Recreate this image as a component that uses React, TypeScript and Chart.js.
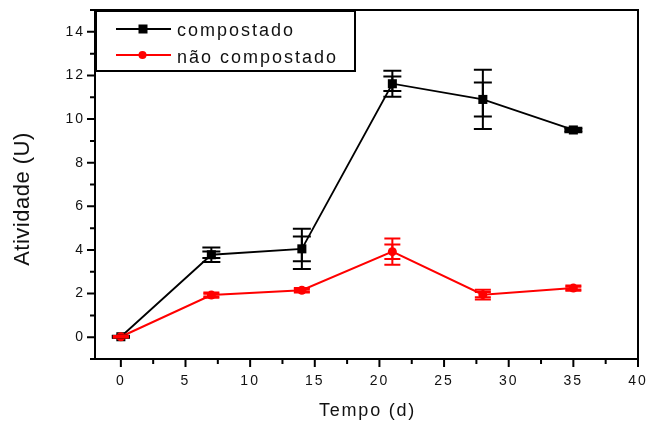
import React, { useEffect, useRef } from 'react';
import { Chart, registerables } from 'chart.js';

Chart.register(...registerables);

const days = [0, 7, 14, 21, 28, 35];
const compostado = [0.02, 3.78, 4.05, 11.62, 10.9, 9.5];
const compostadoErr = [0.05, 0.33, 0.92, 0.6, 1.36, 0.1];
const compostadoErrInner = [0.03, 0.15, 0.57, 0.33, 0.78, 0.05];
const naoCompostado = [0.02, 1.93, 2.15, 3.92, 1.95, 2.25];
const naoCompostadoErr = [0.03, 0.12, 0.1, 0.6, 0.22, 0.12];
const naoCompostadoErrInner = [0.02, 0.06, 0.05, 0.33, 0.12, 0.06];

const seriesLabels = ['compostado', 'não compostado'];
const xTitle = 'Tempo (d)';
const yTitle = 'Atividade (U)';
const xTicks = [0, 5, 10, 15, 20, 25, 30, 35, 40];
const xMinorTicks = [2.5, 7.5, 12.5, 17.5, 22.5, 27.5, 32.5, 37.5];
const yTicks = [0, 2, 4, 6, 8, 10, 12, 14];
const yMinorTicks = [-1, 1, 3, 5, 7, 9, 11, 13, 15];

const FONT = '"Liberation Sans", Arial, Helvetica, sans-serif';

const zeroPad = (s: any) => {
  s.paddingTop = 0;
  s.paddingBottom = 0;
  s.paddingLeft = 0;
  s.paddingRight = 0;
};

const decorPlugin = {
  id: 'decor',
  beforeLayout(chart: any) {
    chart.ctx.letterSpacing = '2px';
  },
  beforeDraw(chart: any) {
    chart.ctx.letterSpacing = '2px';
  },
  afterDatasetsDraw(chart: any) {
    const ctx = chart.ctx;
    const xs = chart.scales.x;
    const ys = chart.scales.y;
    ctx.save();
    chart.data.datasets.forEach((ds: any) => {
      ctx.strokeStyle = ds.borderColor;
      ctx.lineWidth = 2;
      const cap = ds.capHalf;
      [ds.errOuter, ds.errInner].forEach((errs: number[]) => {
        ds.data.forEach((p: any, i: number) => {
          const e = errs[i];
          const px = xs.getPixelForValue(p.x);
          const top = ys.getPixelForValue(p.y + e);
          const bot = ys.getPixelForValue(p.y - e);
          ctx.beginPath();
          ctx.moveTo(px, top);
          ctx.lineTo(px, bot);
          ctx.moveTo(px - cap, top);
          ctx.lineTo(px + cap, top);
          ctx.moveTo(px - cap, bot);
          ctx.lineTo(px + cap, bot);
          ctx.stroke();
        });
      });
    });
    ctx.restore();
  },
  afterDraw(chart: any) {
    const ctx = chart.ctx;
    const area = chart.chartArea;
    const xs = chart.scales.x;
    const ys = chart.scales.y;
    ctx.save();
    // frame
    ctx.strokeStyle = '#000';
    ctx.lineWidth = 2;
    ctx.strokeRect(area.left, area.top, area.right - area.left, area.bottom - area.top);
    // ticks
    ctx.beginPath();
    xTicks.forEach((v) => {
      const px = xs.getPixelForValue(v);
      ctx.moveTo(px, area.bottom);
      ctx.lineTo(px, area.bottom + 8);
    });
    xMinorTicks.forEach((v) => {
      const px = xs.getPixelForValue(v);
      ctx.moveTo(px, area.bottom);
      ctx.lineTo(px, area.bottom + 5);
    });
    yTicks.forEach((v) => {
      const py = ys.getPixelForValue(v);
      ctx.moveTo(area.left, py);
      ctx.lineTo(area.left - 8, py);
    });
    yMinorTicks.forEach((v) => {
      const py = ys.getPixelForValue(v);
      ctx.moveTo(area.left, py);
      ctx.lineTo(area.left - 5, py);
    });
    ctx.stroke();

    // axis titles
    ctx.fillStyle = '#111';
    ctx.font = `18px ${FONT}`;
    ctx.letterSpacing = '1.75px';
    ctx.textAlign = 'center';
    ctx.textBaseline = 'alphabetic';
    ctx.fillText(xTitle, (area.left + area.right) / 2 + 1, 416);

    ctx.save();
    ctx.font = `22px ${FONT}`;
    ctx.letterSpacing = '0.5px';
    ctx.translate(23, 199);
    ctx.rotate(-Math.PI / 2);
    ctx.textBaseline = 'middle';
    ctx.fillText(yTitle, 0, 0);
    ctx.restore();

    // legend
    ctx.fillStyle = '#fff';
    ctx.fillRect(96, 11, 259, 60);
    ctx.strokeStyle = '#000';
    ctx.lineWidth = 2;
    ctx.strokeRect(96, 11, 259, 60);
    const rows = [29, 55];
    const baselines = [36, 62.5];
    chart.data.datasets.forEach((ds: any, i: number) => {
      const y = rows[i];
      ctx.strokeStyle = ds.borderColor;
      ctx.lineWidth = 2;
      ctx.beginPath();
      ctx.moveTo(116, y);
      ctx.lineTo(171, y);
      ctx.stroke();
      ctx.fillStyle = ds.borderColor;
      if (i === 0) {
        ctx.fillRect(143 - 4.5, y - 4.5, 9, 9);
      } else {
        ctx.beginPath();
        ctx.arc(142.5, y, 4, 0, Math.PI * 2);
        ctx.fill();
      }
      ctx.fillStyle = '#111';
      ctx.font = `18px ${FONT}`;
      ctx.letterSpacing = '2px';
      ctx.textAlign = 'left';
      ctx.textBaseline = 'alphabetic';
      ctx.fillText(ds.label, 177, baselines[i]);
    });
    ctx.restore();
    ctx.letterSpacing = '2px';
  },
};

export default function App() {
  const canvasRef = useRef<HTMLCanvasElement | null>(null);

  useEffect(() => {
    const canvas = canvasRef.current;
    if (!canvas) return;
    const chart = new Chart(canvas, {
      type: 'line',
      data: {
        datasets: [
          {
            label: seriesLabels[0],
            data: days.map((d, i) => ({ x: d, y: compostado[i] })),
            borderColor: '#000000',
            backgroundColor: '#000000',
            borderWidth: 1.8,
            pointStyle: 'rect',
            pointRadius: 6.4,
            pointBorderWidth: 0,
            pointBackgroundColor: '#000000',
            order: 1,
            errOuter: compostadoErr,
            errInner: compostadoErrInner,
            capHalf: 9,
          } as any,
          {
            label: seriesLabels[1],
            data: days.map((d, i) => ({ x: d, y: naoCompostado[i] })),
            borderColor: '#ff0000',
            backgroundColor: '#ff0000',
            borderWidth: 2,
            pointStyle: 'circle',
            pointRadius: 4.5,
            pointBorderWidth: 0,
            pointBackgroundColor: '#ff0000',
            order: 0,
            errOuter: naoCompostadoErr,
            errInner: naoCompostadoErrInner,
            capHalf: 8,
          } as any,
        ],
      },
      options: {
        animation: false,
        responsive: true,
        maintainAspectRatio: false,
        layout: { padding: { left: 0, right: 9, top: 10, bottom: 0 } },
        plugins: { legend: { display: false }, tooltip: { enabled: false } },
        scales: {
          x: {
            type: 'linear',
            min: -2,
            max: 40,
            afterBuildTicks: (s: any) => {
              s.ticks = xTicks.map((v) => ({ value: v }));
            },
            afterFit: (s: any) => {
              s.height = 62;
              zeroPad(s);
            },
            grid: { display: false, drawTicks: false },
            border: { display: false },
            ticks: {
              autoSkip: false,
              maxRotation: 0,
              padding: 14,
              color: '#111',
              font: { family: FONT, size: 14 },
            },
          },
          y: {
            type: 'linear',
            min: -1,
            max: 15,
            afterBuildTicks: (s: any) => {
              s.ticks = yTicks.map((v) => ({ value: v }));
            },
            afterFit: (s: any) => {
              s.width = 95;
              zeroPad(s);
            },
            grid: { display: false, drawTicks: false },
            border: { display: false },
            ticks: {
              autoSkip: false,
              padding: 10,
              color: '#111',
              font: { family: FONT, size: 14 },
            },
          },
        },
      },
      plugins: [decorPlugin],
    });
    return () => chart.destroy();
  }, []);

  return (
    <div style={{ position: 'fixed', left: 0, top: 0, width: 647, height: 421, background: '#fff' }}>
      <canvas ref={canvasRef} />
    </div>
  );
}
